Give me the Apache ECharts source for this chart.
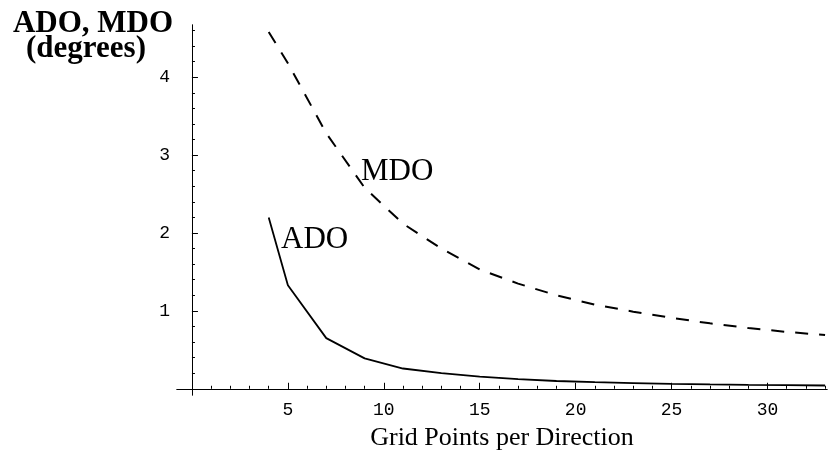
<!DOCTYPE html>
<html>
<head>
<meta charset="utf-8">
<script src="https://cdn.jsdelivr.net/npm/echarts@6/dist/echarts.min.js"></script>
<style>html,body{margin:0;padding:0;background:#fff}#c{width:838px;height:456px}</style>
</head>
<body>
<div id="c"></div>
<script>
// ---- data ----
var gridPoints = [4, 5, 7, 9, 11, 13, 15, 17, 19, 21, 23, 25, 27, 29, 31, 33];
var adoValues = [2.2, 1.33, 0.65, 0.39, 0.26, 0.2, 0.155, 0.125, 0.1, 0.085, 0.073, 0.063, 0.056, 0.05, 0.046, 0.042];
var mdoValues = [4.58, 4.18, 3.28, 2.58, 2.12, 1.8, 1.53, 1.35, 1.2, 1.08, 0.99, 0.91, 0.84, 0.78, 0.73, 0.69];
var xMajorTicks = [5, 10, 15, 20, 25, 30];
var yMajorTicks = [1, 2, 3, 4];
var xMinorTicks = [];
for (var i = 1; i <= 33; i++) xMinorTicks.push(i);
var yMinorTicks = [];
for (var j = 1; j <= 23; j++) yMinorTicks.push(Math.round(j * 0.2 * 10) / 10);

var xName = 'Grid Points per Direction';
var yTitle1 = 'ADO, MDO';
var yTitle2 = '(degrees)';

function pairs(xs, ys) { return xs.map(function (x, k) { return [x, ys[k]]; }); }

var chart = echarts.init(document.getElementById('c'), null, { renderer: 'canvas' });
var axisLineStyle = { color: '#000', width: 1 };
var tickFontFamily = 'Liberation Mono';
var tickFontSize = 18;
var X_MIN = -0.78, X_MAX = 33.1, Y_MIN = -0.08, Y_MAX = 4.67;

chart.setOption({
  animation: false,
  backgroundColor: '#fff',
  grid: { left: 177, right: 11, top: 25, bottom: 48, containLabel: false },
  xAxis: [
    {
      type: 'value', min: X_MIN, max: X_MAX, position: 'bottom',
      axisLine: { show: true, onZero: true, lineStyle: axisLineStyle },
      axisTick: { show: true, inside: true, length: 3, customValues: xMinorTicks, lineStyle: axisLineStyle },
      axisLabel: { show: true, customValues: xMajorTicks, margin: 6, fontFamily: tickFontFamily, fontSize: tickFontSize, color: '#000' },
      splitLine: { show: false },
      name: xName, nameLocation: 'middle', nameGap: 30,
      nameTextStyle: { fontFamily: 'Liberation Serif', fontSize: 26, color: '#000' }
    },
    {
      type: 'value', min: X_MIN, max: X_MAX, position: 'bottom',
      axisLine: { show: true, onZero: true, lineStyle: axisLineStyle },
      axisTick: { show: true, inside: true, length: 6, customValues: xMajorTicks, lineStyle: axisLineStyle },
      axisLabel: { show: false },
      splitLine: { show: false }
    }
  ],
  yAxis: [
    {
      type: 'value', min: Y_MIN, max: Y_MAX, position: 'left',
      axisLine: { show: true, onZero: true, lineStyle: axisLineStyle },
      axisTick: { show: true, inside: true, length: 3, customValues: yMinorTicks, lineStyle: axisLineStyle },
      axisLabel: { show: true, customValues: yMajorTicks, margin: 7, fontFamily: tickFontFamily, fontSize: tickFontSize, color: '#000' },
      splitLine: { show: false }
    },
    {
      type: 'value', min: Y_MIN, max: Y_MAX, position: 'left',
      axisLine: { show: true, onZero: true, lineStyle: axisLineStyle },
      axisTick: { show: true, inside: true, length: 6, customValues: yMajorTicks, lineStyle: axisLineStyle },
      axisLabel: { show: false },
      splitLine: { show: false }
    }
  ],
  series: [
    {
      name: 'ADO', type: 'line', xAxisIndex: 0, yAxisIndex: 0,
      data: pairs(gridPoints, adoValues),
      showSymbol: false, symbol: 'none',
      lineStyle: { color: '#000', width: 1.8, type: 'solid' }
    },
    {
      name: 'MDO', type: 'line', xAxisIndex: 0, yAxisIndex: 0,
      data: pairs(gridPoints, mdoValues),
      showSymbol: false, symbol: 'none',
      lineStyle: { color: '#000', width: 2, type: [13, 11] }
    }
  ],
  graphic: [
    { type: 'text', style: { x: 93, y: 24, text: yTitle1, fontFamily: 'Liberation Serif', fontWeight: 'bold', fontSize: 31, fill: '#000', textAlign: 'center', align: 'center', textVerticalAlign: 'middle', verticalAlign: 'middle' } },
    { type: 'text', style: { x: 86, y: 49, text: yTitle2, fontFamily: 'Liberation Serif', fontWeight: 'bold', fontSize: 31, fill: '#000', textAlign: 'center', align: 'center', textVerticalAlign: 'middle', verticalAlign: 'middle' } },
    { type: 'text', style: { x: 281, y: 240, text: 'ADO', fontFamily: 'Liberation Serif', fontSize: 31, fill: '#000', textAlign: 'left', align: 'left', textVerticalAlign: 'middle', verticalAlign: 'middle' } },
    { type: 'text', style: { x: 361, y: 172, text: 'MDO', fontFamily: 'Liberation Serif', fontSize: 31, fill: '#000', textAlign: 'left', align: 'left', textVerticalAlign: 'middle', verticalAlign: 'middle' } }
  ]
});
</script>
</body>
</html>
